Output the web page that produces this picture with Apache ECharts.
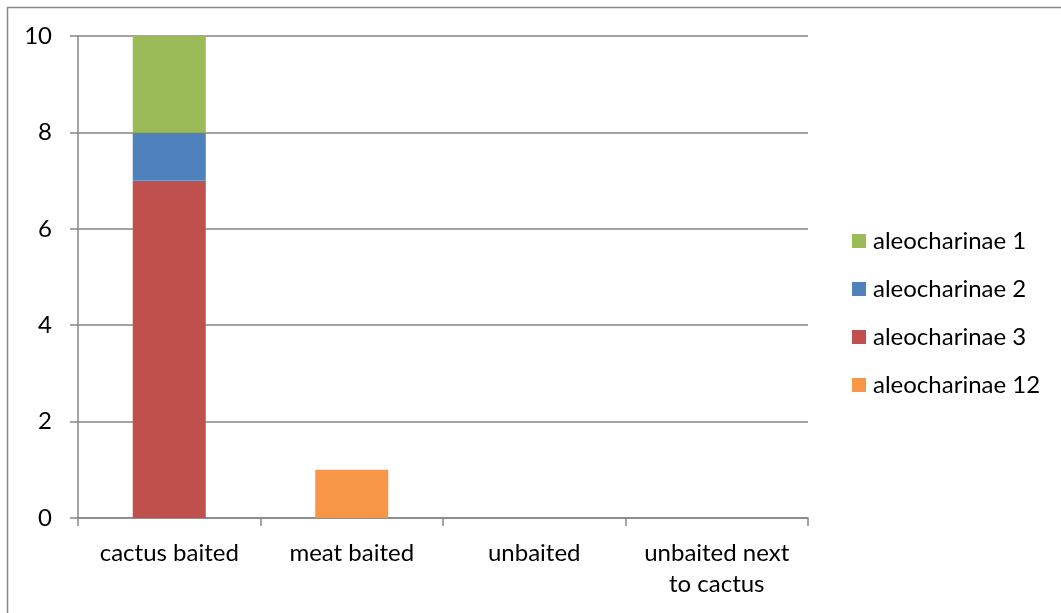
<!DOCTYPE html>
<html><head><meta charset="utf-8">
<script src="https://cdn.jsdelivr.net/npm/echarts@6/dist/echarts.min.js"></script>
<style>html,body{margin:0;padding:0;background:#fff}#c{width:1061px;height:613px}</style>
</head><body><div id="c"></div>
<script>
const categories = ['cactus baited', 'meat baited', 'unbaited', 'unbaited next\nto cactus'];
const aleo3 = [7, 0, 0, 0];
const aleo2 = [1, 0, 0, 0];
const aleo1 = [2, 0, 0, 0];
const aleo12 = [0, 1, 0, 0];
const yTicks = [0, 2, 4, 6, 8, 10];
const legendOrder = ['aleocharinae 1', 'aleocharinae 2', 'aleocharinae 3', 'aleocharinae 12'];

const chart = echarts.init(document.getElementById('c'));
const font = 'Lato, "Open Sans", sans-serif';
function s(name, data, color) {
  return { name, type: 'bar', stack: 'a', data: data.map(v => v === 0 ? null : v), barWidth: '40%',
    itemStyle: { color }, emphasis: { disabled: true } };
}
chart.setOption({
  animation: false,
  graphic: [{ type: 'rect', shape: { x: 7.5, y: 7.5, width: 1200, height: 800 },
    style: { fill: 'none', stroke: '#8a8a8a', lineWidth: 1.5 }, silent: true }],
  grid: { left: 78, top: 36, width: 730, height: 482 },
  legend: { orient: 'vertical', left: 847, top: 224, itemWidth: 14, itemHeight: 14, itemGap: 24,
    data: legendOrder, icon: 'rect',
    textStyle: { fontFamily: font, fontSize: 24, color: '#000', lineHeight: 24, padding: [0, 0, 0, 2] } },
  xAxis: { type: 'category', data: categories,
    axisLine: { lineStyle: { color: '#868686', width: 1.5 } },
    axisTick: { show: true, length: 8, inside: false, lineStyle: { color: '#868686', width: 1.5 } },
    axisLabel: { fontFamily: font, fontSize: 24, color: '#000', margin: 20, lineHeight: 31, interval: 0 } },
  yAxis: { type: 'value', min: 0, max: 10, interval: 2,
    axisLine: { show: true, lineStyle: { color: '#868686', width: 1.5 } },
    axisTick: { show: true, length: 8, lineStyle: { color: '#868686', width: 1.5 } },
    splitLine: { lineStyle: { color: '#868686', width: 1.5 } },
    axisLabel: { fontFamily: font, fontSize: 24, color: '#000', margin: 26,
      formatter: v => yTicks.includes(v) ? String(v) : '' } },
  series: [
    s('aleocharinae 3', aleo3, '#C0504D'),
    s('aleocharinae 2', aleo2, '#4F81BD'),
    s('aleocharinae 1', aleo1, '#9BBB59'),
    s('aleocharinae 12', aleo12, '#F79646')
  ]
});
</script></body></html>
